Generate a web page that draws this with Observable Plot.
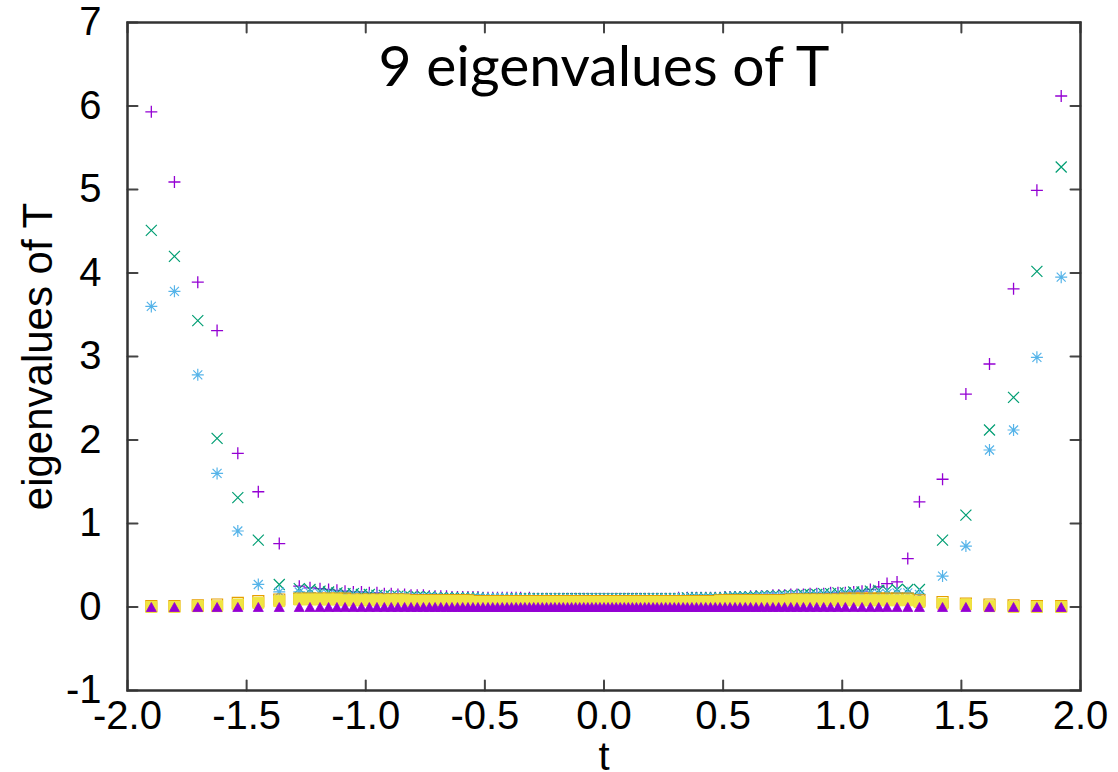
<!DOCTYPE html>
<html><head><meta charset="utf-8">
<script src="https://cdn.jsdelivr.net/npm/d3@7"></script>
<script src="https://cdn.jsdelivr.net/npm/@observablehq/plot@0.6"></script>
<style>
body{margin:0;background:#fff;}
#chart{width:1118px;height:772px;}
</style>
</head><body><div id="chart"></div>
<script>
// ---------- data ----------
const xTicks = [-2, -1.5, -1, -0.5, 0, 0.5, 1, 1.5, 2];
const yTicks = [-1, 0, 1, 2, 3, 4, 5, 6, 7];

const tLeft = [-1.900, -1.803, -1.705, -1.624, -1.537, -1.451, -1.363];
const tDense = [
 -1.279,-1.234,-1.192,-1.156,-1.121,
 -1.087,-1.052,-1.018,-0.985,-0.953,
 -0.922,-0.893,-0.865,-0.837,-0.810,
 -0.784,-0.758,-0.733,-0.709,-0.685,
 -0.661,-0.638,-0.615,-0.593,-0.571,
 -0.550,-0.529,-0.508,-0.487,-0.467,
 -0.447,-0.427,-0.407,-0.388,-0.369,
 -0.350,-0.332,-0.313,-0.295,-0.277,
 -0.259,-0.241,-0.223,-0.206,-0.188,
 -0.171,-0.153,-0.136,-0.119,-0.102,
 -0.085,-0.068,-0.051,-0.034,-0.017,
 0.000,
 0.017,0.034,0.051,0.068,0.085,
 0.102,0.119,0.136,0.153,0.171,
 0.188,0.206,0.223,0.241,0.259,
 0.277,0.295,0.313,0.332,0.350,
 0.369,0.388,0.407,0.427,0.447,
 0.467,0.487,0.508,0.529,0.550,
 0.571,0.593,0.615,0.638,0.661,
 0.685,0.709,0.733,0.758,0.784,
 0.810,0.837,0.865,0.893,0.922,
 0.951,0.982,1.013,1.048,1.083,
 1.118,1.153,1.188,1.230,1.275
];
const tRight = [1.324, 1.421, 1.519, 1.618, 1.719, 1.817, 1.919];

// eigenvalue 1 (+)
const ev1Left = [5.93, 5.09, 3.89, 3.31, 1.84, 1.38, 0.76];
const ev1Dense = [
 0.25,0.23,0.22,0.21,0.20,
 0.19,0.18,0.18,0.17,0.17,
 0.16,0.16,0.15,0.15,0.14,
 0.14,0.14,0.13,0.13,0.13,
 0.13,0.12,0.12,0.12,0.12,
 0.12,0.12,0.11,0.11,0.11,
 0.11,0.11,0.11,0.11,0.11,
 0.11,0.10,0.11,0.10,0.10,
 0.10,0.10,0.10,0.10,0.10,
 0.10,0.10,0.10,0.10,0.10,
 0.10,0.10,0.10,0.10,0.10,
 0.10,
 0.10,0.10,0.10,0.10,0.10,
 0.10,0.10,0.10,0.10,0.10,
 0.10,0.10,0.10,0.10,0.10,
 0.10,0.10,0.11,0.10,0.11,
 0.11,0.11,0.11,0.11,0.11,
 0.11,0.11,0.12,0.12,0.12,
 0.12,0.12,0.13,0.13,0.13,
 0.13,0.14,0.14,0.14,0.15,
 0.15,0.15,0.16,0.16,0.16,
 0.17,0.17,0.17,0.18,0.19,
 0.21,0.24,0.28,0.30,0.58
];
const ev1Right = [1.26, 1.53, 2.55, 2.91, 3.81, 4.99, 6.12];

// eigenvalue 2 (x)
const ev2Left = [4.51, 4.20, 3.43, 2.02, 1.31, 0.80, 0.27];
const ev2Dense = [
 0.22,0.21,0.19,0.18,0.17,
 0.16,0.16,0.15,0.15,0.14,
 0.14,0.13,0.13,0.13,0.12,
 0.12,0.12,0.12,0.11,0.11,
 0.11,0.11,0.11,0.11,0.11,
 0.11,0.11,0.10,0.10,0.10,
 0.10,0.10,0.10,0.10,0.10,
 0.10,0.10,0.10,0.10,0.10,
 0.10,0.10,0.10,0.10,0.10,
 0.10,0.10,0.10,0.10,0.10,
 0.10,0.10,0.10,0.10,0.10,
 0.10,
 0.10,0.10,0.10,0.10,0.10,
 0.10,0.10,0.10,0.10,0.10,
 0.10,0.10,0.10,0.10,0.10,
 0.10,0.10,0.10,0.10,0.11,
 0.11,0.11,0.11,0.11,0.11,
 0.11,0.11,0.11,0.12,0.12,
 0.12,0.12,0.12,0.12,0.13,
 0.13,0.13,0.13,0.14,0.14,
 0.14,0.15,0.15,0.15,0.16,
 0.16,0.17,0.17,0.18,0.18,
 0.19,0.20,0.20,0.21,0.21
];
const ev2Right = [0.21, 0.80, 1.10, 2.12, 2.51, 4.02, 5.27];

// eigenvalue 3 (*)
const ev3Left = [3.60, 3.78, 2.78, 1.60, 0.91, 0.27, 0.18];
const ev3Dense = [
 0.18,0.17,0.16,0.15,0.15,
 0.14,0.14,0.13,0.13,0.13,
 0.12,0.12,0.12,0.12,0.11,
 0.11,0.11,0.11,0.11,0.10,
 0.10,0.10,0.10,0.10,0.10,
 0.10,0.10,0.10,0.10,0.10,
 0.10,0.10,0.10,0.09,0.10,
 0.09,0.09,0.09,0.09,0.09,
 0.09,0.09,0.09,0.09,0.09,
 0.09,0.09,0.09,0.09,0.09,
 0.09,0.09,0.09,0.09,0.09,
 0.09,
 0.09,0.09,0.09,0.09,0.09,
 0.09,0.09,0.09,0.09,0.09,
 0.09,0.09,0.09,0.09,0.09,
 0.09,0.09,0.10,0.09,0.10,
 0.10,0.10,0.10,0.10,0.10,
 0.10,0.10,0.10,0.11,0.11,
 0.11,0.11,0.11,0.11,0.12,
 0.12,0.12,0.12,0.12,0.13,
 0.13,0.13,0.13,0.14,0.14,
 0.14,0.14,0.15,0.15,0.15,
 0.16,0.16,0.16,0.17,0.17
];
const ev3Right = [0.15, 0.37, 0.73, 1.88, 2.12, 2.99, 3.95];

// eigenvalue 4 (open square)
const ev4Left = [0.01, 0.01, 0.02, 0.03, 0.05, 0.07, 0.09];
const ev4Dense = [
 0.10,0.10,0.10,0.10,0.10,
 0.10,0.09,0.09,0.09,0.09,
 0.09,0.09,0.09,0.09,0.08,
 0.08,0.08,0.08,0.08,0.08,
 0.08,0.08,0.08,0.08,0.08,
 0.07,0.07,0.07,0.07,0.07,
 0.07,0.07,0.07,0.07,0.07,
 0.07,0.07,0.07,0.07,0.07,
 0.07,0.07,0.07,0.07,0.07,
 0.07,0.07,0.07,0.07,0.07,
 0.07,0.07,0.07,0.07,0.07,
 0.07,
 0.07,0.07,0.07,0.07,0.07,
 0.07,0.07,0.07,0.07,0.07,
 0.07,0.07,0.07,0.07,0.07,
 0.07,0.07,0.07,0.07,0.07,
 0.07,0.07,0.07,0.07,0.07,
 0.07,0.08,0.08,0.08,0.08,
 0.08,0.08,0.08,0.08,0.08,
 0.08,0.08,0.08,0.08,0.09,
 0.09,0.09,0.09,0.09,0.09,
 0.09,0.09,0.10,0.10,0.10,
 0.10,0.10,0.10,0.10,0.10
];
const ev4Right = [0.08, 0.06, 0.04, 0.03, 0.02, 0.01, 0.01];

// eigenvalue 5 (filled square)
const ev5Left = [0.00, 0.00, 0.01, 0.01, 0.03, 0.05, 0.07];
const ev5Dense = [
 0.09,0.09,0.09,0.09,0.09,
 0.08,0.08,0.08,0.08,0.08,
 0.08,0.08,0.08,0.08,0.07,
 0.07,0.07,0.07,0.07,0.07,
 0.07,0.07,0.07,0.07,0.07,
 0.06,0.06,0.06,0.06,0.06,
 0.06,0.06,0.06,0.06,0.06,
 0.06,0.06,0.06,0.06,0.06,
 0.06,0.06,0.06,0.06,0.06,
 0.06,0.06,0.06,0.06,0.06,
 0.06,0.06,0.06,0.06,0.06,
 0.06,
 0.06,0.06,0.06,0.06,0.06,
 0.06,0.06,0.06,0.06,0.06,
 0.06,0.06,0.06,0.06,0.06,
 0.06,0.06,0.06,0.06,0.06,
 0.06,0.06,0.06,0.06,0.06,
 0.06,0.07,0.07,0.07,0.07,
 0.07,0.07,0.07,0.07,0.07,
 0.07,0.07,0.07,0.07,0.08,
 0.08,0.08,0.08,0.08,0.08,
 0.08,0.08,0.08,0.08,0.08,
 0.08,0.08,0.08,0.08,0.08
];
const ev5Right = [0.06, 0.04, 0.03, 0.01, 0.00, 0.00, 0.00];

// eigenvalue 9 (filled triangle)
const ev9Left = [0, 0, 0, 0, 0, 0, 0];
const ev9Dense = [
 0,0,0,0,0, 0,0,0,0,0, 0,0,0,0,0, 0,0,0,0,0, 0,0,0,0,0,
 0,0,0,0,0, 0,0,0,0,0, 0,0,0,0,0, 0,0,0,0,0, 0,0,0,0,0,
 0,0,0,0,0,
 0,
 0,0,0,0,0, 0,0,0,0,0, 0,0,0,0,0, 0,0,0,0,0, 0,0,0,0,0,
 0,0,0,0,0, 0,0,0,0,0, 0,0,0,0,0, 0,0,0,0,0, 0,0,0,0,0,
 0,0,0,0,0
];
const ev9Right = [0, 0, 0, 0, 0, 0, 0];

// ---------- symbols ----------
const rad = s => Math.sqrt(s / Math.PI);
const symPlus = {draw(c, s) { const r = rad(s); c.moveTo(-r, 0); c.lineTo(r, 0); c.moveTo(0, -r); c.lineTo(0, r); }};
const symTimes = {draw(c, s) { const r = rad(s); c.moveTo(-r, -r); c.lineTo(r, r); c.moveTo(-r, r); c.lineTo(r, -r); }};
const symStar = {draw(c, s) { const r = rad(s), q = r * 0.75;
  c.moveTo(-r, 0); c.lineTo(r, 0); c.moveTo(0, -r); c.lineTo(0, r);
  c.moveTo(-q, -q); c.lineTo(q, q); c.moveTo(-q, q); c.lineTo(q, -q); }};
const symSquare = {draw(c, s) { const r = rad(s); c.moveTo(-r, -r); c.lineTo(r, -r); c.lineTo(r, r); c.lineTo(-r, r); c.closePath(); }};
const symTri = {draw(c, s) { const r = rad(s); c.moveTo(0, -r * 0.9); c.lineTo(r, r * 0.9); c.lineTo(-r, r * 0.9); c.closePath(); }};
const tickShape = {draw(c, l) { c.moveTo(0, 0); c.lineTo(0, -l); }};

// ---------- build ----------
const T = [...tLeft, ...tDense, ...tRight];
const rows = vals => T.map((t, i) => ({t, v: vals[i]})).filter(d => d.v != null);
const s1 = rows([...ev1Left, ...ev1Dense, ...ev1Right]);
const s2 = rows([...ev2Left, ...ev2Dense, ...ev2Right]);
const s3 = rows([...ev3Left, ...ev3Dense, ...ev3Right]);
const s4 = rows([...ev4Left, ...ev4Dense, ...ev4Right]);
const s5 = rows([...ev5Left, ...ev5Dense, ...ev5Right]);
const s9 = rows([...ev9Left, ...ev9Dense, ...ev9Right]);

const axisFont = "'Liberation Sans', Arial, Helvetica, sans-serif";
const tickCol = "#444";

const chart = Plot.plot({
  width: 1118,
  height: 772,
  marginLeft: 127,
  marginRight: 38,
  marginTop: 22,
  marginBottom: 82,
  style: {fontFamily: axisFont, color: "#000", background: "#fff", overflow: "visible"},
  x: {domain: [-2, 2]},
  y: {domain: [-1, 7]},
  marks: [
    Plot.axisX({ticks: xTicks, tickFormat: d => d.toFixed(1), tickSize: 0, tickPadding: 10, fontSize: 40, label: null}),
    Plot.axisY({ticks: yTicks, tickFormat: d => String(d), tickSize: 0, tickPadding: 26, fontSize: 40, label: null}),
    Plot.vector(xTicks, {x: d => d, frameAnchor: "bottom", length: 10, rotate: 0, anchor: "start", shape: tickShape, stroke: tickCol, strokeWidth: 2}),
    Plot.vector(xTicks, {x: d => d, frameAnchor: "top", length: 10, rotate: 180, anchor: "start", shape: tickShape, stroke: tickCol, strokeWidth: 2}),
    Plot.vector(yTicks, {y: d => d, frameAnchor: "left", length: 10, rotate: 90, anchor: "start", shape: tickShape, stroke: tickCol, strokeWidth: 2}),
    Plot.vector(yTicks, {y: d => d, frameAnchor: "right", length: 10, rotate: -90, anchor: "start", shape: tickShape, stroke: tickCol, strokeWidth: 2}),
    Plot.dot(s1, {x: "t", y: "v", symbol: symPlus, r: 6, stroke: "#9400d3", fill: "none", strokeWidth: 1.3}),
    Plot.dot(s2, {x: "t", y: "v", symbol: symTimes, r: 5.5, stroke: "#009e73", fill: "none", strokeWidth: 1.2}),
    Plot.dot(s3, {x: "t", y: "v", symbol: symStar, r: 6, stroke: "#56b4e9", fill: "none", strokeWidth: 1.2}),
    Plot.dot(s4, {x: "t", y: "v", symbol: symSquare, r: 5.5, stroke: "#e69f00", fill: "none", strokeWidth: 1.2}),
    Plot.dot(s5, {x: "t", y: "v", symbol: symSquare, r: 5.5, stroke: "#f0e442", fill: "#f0e442", strokeWidth: 1}),
    Plot.dot(s9, {x: "t", y: "v", symbol: symTri, r: 5, stroke: "#9400d3", fill: "#9400d3", strokeWidth: 0.8}),
    Plot.frame({stroke: "#333", strokeWidth: 2.5}),
    Plot.text(["9 eigenvalues of T"], {text: d => d, frameAnchor: "top", dy: 63, lineAnchor: "bottom", textAnchor: "middle", fontSize: 57, fontFamily: "Lato, 'Open Sans', sans-serif", fill: "#000"}),
    Plot.text(["eigenvalues of T"], {text: d => d, frameAnchor: "left", dx: -89, rotate: -90, textAnchor: "middle", lineAnchor: "middle", fontSize: 42, fill: "#000"}),
    Plot.text(["t"], {text: d => d, frameAnchor: "bottom", dy: 67, lineAnchor: "middle", textAnchor: "middle", fontSize: 40, fill: "#000"})
  ]
});
document.getElementById("chart").appendChild(chart);
</script>
</body></html>
